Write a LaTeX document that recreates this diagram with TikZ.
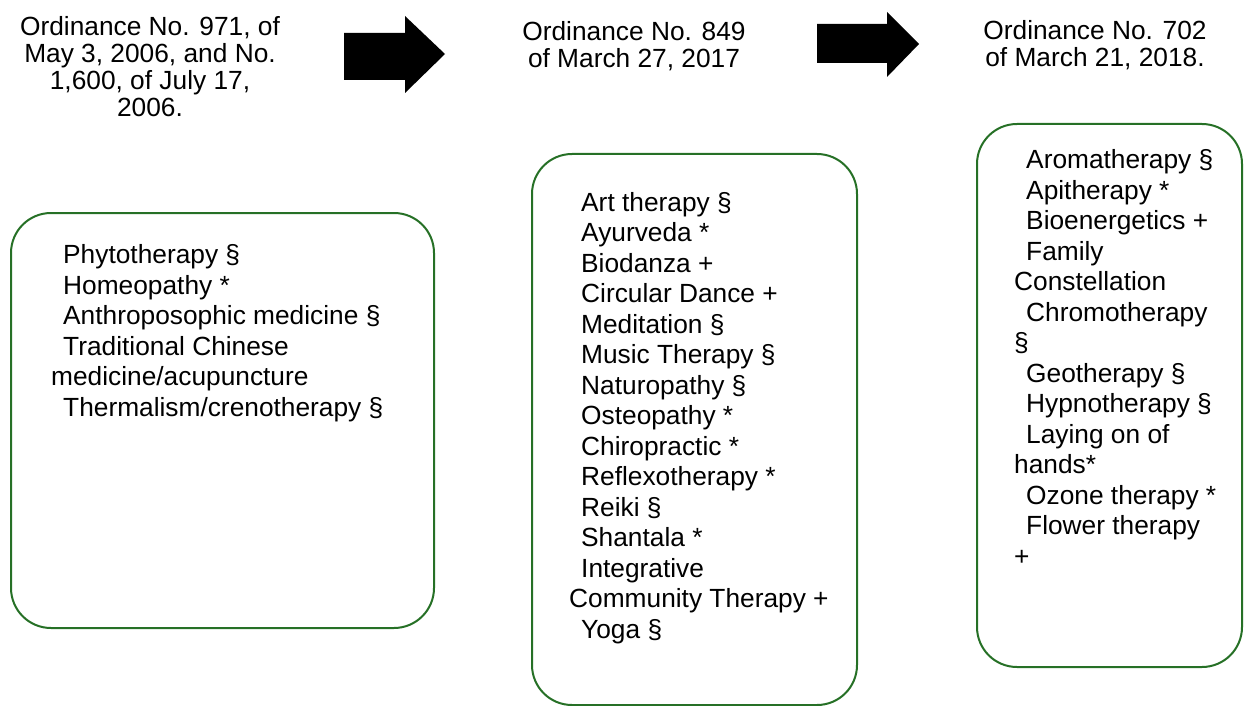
\documentclass[tikz,border=0pt]{standalone}
\usepackage{fontspec}
\setmainfont{Liberation Sans}
\usepackage{xcolor}
\usepackage{tikz}

\definecolor{boxgreen}{RGB}{38,112,38}
\newcommand{\ind}{\hspace*{12pt}}

\begin{document}
\begin{tikzpicture}[x=1pt, y=-1pt,
    title/.style={align=center, anchor=base, inner sep=0pt, font=\fontsize{26.3}{27.3}\selectfont},
    list/.style={align=left, anchor=base west, inner sep=0pt, font=\fontsize{26.3}{30.5}\selectfont},
    greenbox/.style={draw=boxgreen, line width=2pt, rounded corners=40pt}]
    \useasboundingbox (0,0) rectangle (1245,706);

    % titles (placed at the baseline of their last line)
    \node[title] (ord971) at (150,117) {Ordinance No. 971, of\\May 3, 2006, and No.\\1,600, of July 17,\\2006.};
    \node[title] (ord849) at (634,68) {Ordinance No. 849\\of March 27, 2017};
    \node[title] (ord702) at (1095,67) {Ordinance No. 702\\of March 21, 2018.};

    % block arrows
    \fill[black] (344,33) -- (405,33) -- (405,16) -- (445,54) -- (405,93) -- (405,80) -- (344,80) -- cycle; % 971-849
    \fill[black] (817,24) -- (887,24) -- (887,12) -- (919,44) -- (887,77) -- (887,63) -- (817,63) -- cycle; % 849-702

    % boxes
    \draw[greenbox] (11,213) rectangle (434,628);
    \draw[greenbox] (532,154) rectangle (857,705);
    \draw[greenbox] (977,124) rectangle (1242,667);

    % lists (placed at the baseline of their last line)
    \node[list] (list971) at (51,416) {\ind Phytotherapy §\\
        \ind Homeopathy *\\
        \ind Anthroposophic medicine §\\
        \ind Traditional Chinese\\
        medicine/acupuncture\\
        \ind Thermalism/crenotherapy §};
    \node[list] (list849) at (569,638) {\ind Art therapy §\\
        \ind Ayurveda *\\
        \ind Biodanza +\\
        \ind Circular Dance +\\
        \ind Meditation §\\
        \ind Music Therapy §\\
        \ind Naturopathy §\\
        \ind Osteopathy *\\
        \ind Chiropractic *\\
        \ind Reflexotherapy *\\
        \ind Reiki §\\
        \ind Shantala *\\
        \ind Integrative\\
        Community Therapy +\\
        \ind Yoga §};
    \node[list] (list702) at (1014,565) {\ind Aromatherapy §\\
        \ind Apitherapy *\\
        \ind Bioenergetics +\\
        \ind Family\\
        Constellation\\
        \ind Chromotherapy\\
        §\\
        \ind Geotherapy §\\
        \ind Hypnotherapy §\\
        \ind Laying on of\\
        hands*\\
        \ind Ozone therapy *\\
        \ind Flower therapy\\
        +};
\end{tikzpicture}
\end{document}
